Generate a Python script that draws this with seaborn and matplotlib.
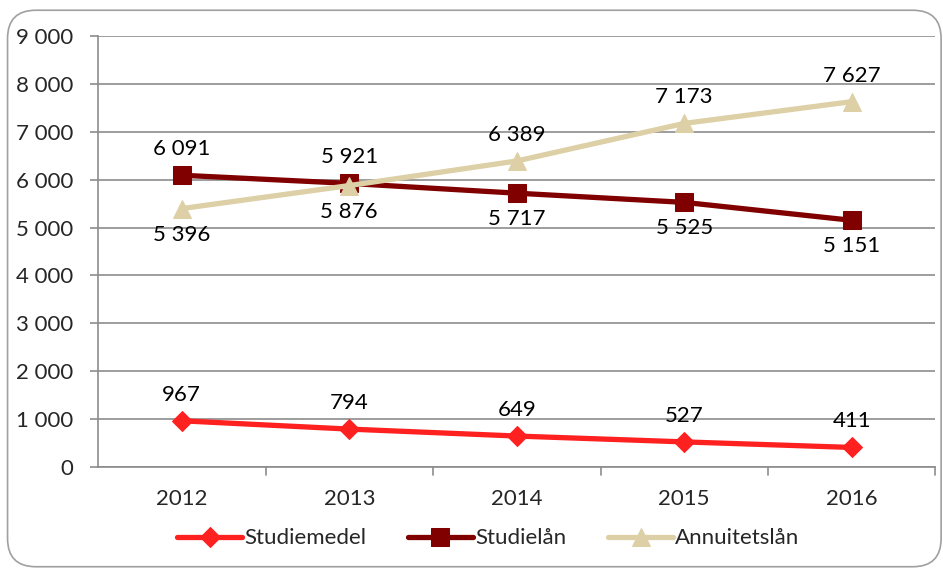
import numpy as np
import pandas as pd
import matplotlib

matplotlib.use("Agg")
import matplotlib.pyplot as plt
import seaborn as sns
from matplotlib.patches import FancyBboxPatch

years = ["2012", "2013", "2014", "2015", "2016"]
studiemedel = [967, 794, 649, 527, 411]
studielan = [6091, 5921, 5717, 5525, 5151]
annuitetslan = [5396, 5876, 6389, 7173, 7627]

series_names = ["Studiemedel", "Studielån", "Annuitetslån"]
series_values = [studiemedel, studielan, annuitetslan]
colors = ["#FF2020", "#800000", "#DDD0A6"]
markers = ["D", "s", "^"]
# label placement: +1 above, -1 below
label_side = [
    [1, 1, 1, 1, 1],
    [1, 1, -1, -1, -1],
    [-1, -1, 1, 1, 1],
]

sns.set_theme(style="white")
plt.rcParams["font.family"] = ["Lato", "DejaVu Sans"]
FS = 16

fig = plt.figure(figsize=(9.43, 5.69), dpi=100)
ax = fig.add_axes([0.104, 0.179, 0.888, 0.758])

# rounded chart border
box = FancyBboxPatch((0.008, 0.004), 0.99, 0.978, boxstyle="round,pad=0,rounding_size=0.03",
                     transform=fig.transFigure, fill=False, edgecolor="#A0A0A0", lw=1.2,
                     mutation_aspect=943 / 569)
fig.patches.append(box)

x = np.arange(len(years))
for name, vals, col, mk, sides in zip(series_names, series_values, colors, markers, label_side):
    df = pd.DataFrame({"x": x, "y": vals})
    sns.lineplot(data=df, x="x", y="y", ax=ax, color=col, lw=3.8, marker=mk,
                 markersize=13 if mk != "D" else 10, markeredgecolor=col, label=name)
    for xi, v, s in zip(x, vals, sides):
        ax.annotate(f"{v:,}".replace(",", " "), (xi, v), xytext=(0, 26 * s),
                    textcoords="offset pixels",
                    ha="center", va="center", fontsize=FS, color="black")

ax.set_xlim(-0.5, 4.5)
ax.set_ylim(0, 9000)
ax.set_yticks(range(0, 9001, 1000))
ax.set_yticklabels([f"{v:,}".replace(",", " ") for v in range(0, 9001, 1000)], fontsize=FS)
ax.set_xticks(x)
ax.set_xticklabels(years, fontsize=FS)
ax.set_xlabel("")
ax.set_ylabel("")
ax.yaxis.grid(True, color="#8C8C8C", lw=1.2)
ax.xaxis.grid(False)
for sp in ["top", "right"]:
    ax.spines[sp].set_visible(False)
ax.spines["left"].set_color("#8C8C8C")
ax.spines["bottom"].set_color("#8C8C8C")
ax.spines["left"].set_linewidth(1.2)
ax.spines["bottom"].set_linewidth(1.2)
ax.tick_params(axis="y", length=6, width=1.2, color="#8C8C8C", left=True, pad=12)
ax.tick_params(axis="x", length=0, pad=16)
# category boundary ticks on x axis
for b in np.arange(0.5, 4.6, 1.0):
    ax.plot([b, b], [0, -0.018], transform=ax.get_xaxis_transform(), color="#8C8C8C",
            lw=1.2, clip_on=False)

ax.legend(loc="center", bbox_to_anchor=(0.466, -0.165), ncol=3, frameon=False,
          fontsize=FS, handlelength=2.9, handletextpad=0.1, columnspacing=1.9)

fig.savefig("out.png", dpi=100)
